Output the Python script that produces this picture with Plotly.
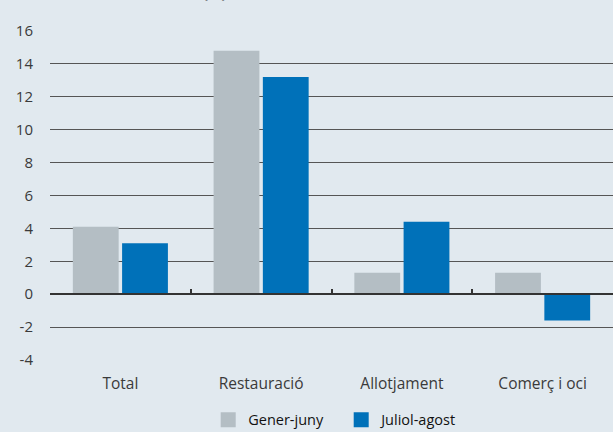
import plotly.graph_objects as go

# Categories and year-on-year change (%) for each period
categories = ["Total", "Restauració", "Allotjament", "Comerç i oci"]
gener_juny = [4.1, 14.8, 1.3, 1.3]
juliol_agost = [3.1, 13.2, 4.4, -1.6]
y_ticks = [-4, -2, 0, 2, 4, 6, 8, 10, 12, 14, 16]

BG = "#E1E9EF"
FONT = "Open Sans, Noto Sans, sans-serif"
GRAY = "#B4BEC4"
BLUE = "#0071B9"

fig = go.Figure()
fig.add_trace(go.Bar(x=categories, y=gener_juny, name="Gener-juny",
                     marker=dict(color=GRAY, line=dict(width=0)),
                     showlegend=False))
fig.add_trace(go.Bar(x=categories, y=juliol_agost, name="Juliol-agost",
                     marker=dict(color=BLUE, line=dict(width=0)),
                     showlegend=False))

# Legend entries with large square swatches
for name, col in [("Gener-juny", GRAY), ("Juliol-agost", BLUE)]:
    fig.add_trace(go.Scatter(x=[None], y=[None], mode="markers", name=name,
                             marker=dict(symbol="square", size=15, color=col),
                             hoverinfo="skip"))

# Overlay axis: baseline at zero with small category separators
fig.add_trace(go.Scatter(x=[None], y=[None], xaxis="x2", showlegend=False,
                         hoverinfo="skip"))

fig.update_layout(
    width=613, height=432,
    margin=dict(l=50, r=0, t=31, b=72, autoexpand=False),
    paper_bgcolor=BG, plot_bgcolor=BG,
    font=dict(family=FONT, size=15, color="#3a3a3a"),
    barmode="group", bargap=0.3, bargroupgap=0.07,
    showlegend=True,
    legend=dict(orientation="h", x=0.281, xanchor="left", y=-0.182,
                yanchor="middle", font=dict(size=14.5, color="#111111"),
                itemsizing="trace", traceorder="normal",
                bgcolor="rgba(0,0,0,0)", itemwidth=30, tracegroupgap=0,
                entrywidth=88),
    xaxis=dict(type="category", range=[-0.5, 3.5], showgrid=False,
               showline=False, ticks="", zeroline=False,
               ticklabelstandoff=12,
               tickfont=dict(size=15.5, color="#3a3a3a")),
    xaxis2=dict(overlaying="x", anchor="free", position=0.2, range=[-0.5, 3.5],
                tickmode="array", tickvals=[-0.5, 0.5, 1.5, 2.5],
                ticks="inside", ticklen=4, tickwidth=1.5, tickcolor="#333333",
                showticklabels=False, showline=True, linecolor="#333333",
                linewidth=1.5, showgrid=False, zeroline=False),
    yaxis=dict(range=[-4, 16], tickmode="array", tickvals=y_ticks,
               ticktext=[str(v) for v in y_ticks],
               showgrid=True, gridcolor="#555555", gridwidth=1,
               zeroline=False, showline=False, ticks="",
               ticklabelstandoff=16,
               tickfont=dict(size=15, color="#3a3a3a")),
)
# Chart title, running off the top of the page
fig.add_annotation(text="<b>(%)</b>", xref="paper", yref="paper",
                   x=0.293, y=1.082, xanchor="center", yanchor="bottom",
                   showarrow=False, font=dict(size=15, color="#1a1a1a"))

fig.write_html("out.html")
